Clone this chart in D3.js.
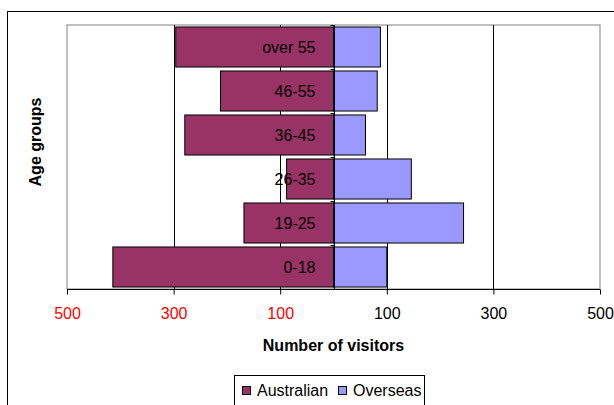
<!DOCTYPE html>
<html>
<head>
<meta charset="utf-8">
<script src="https://cdn.jsdelivr.net/npm/d3@7"></script>
<style>
  body { margin: 0; background: #fff; }
  svg text { font-family: "Liberation Sans", Arial, sans-serif; }
</style>
</head>
<body>
<svg id="chart" width="614" height="405"></svg>
<script>
// age groups, top to bottom
const groups = ['over 55', '46-55', '36-45', '26-35', '19-25', '0-18'];
const australian = [296, 212, 279, 88, 168, 414];
const overseas = [88, 82, 60, 146, 244, 100];
const tickValues = [-500, -300, -100, 100, 300, 500];
const seriesNames = ['Australian', 'Overseas'];
const colors = ['#993366', '#9999ff'];

const svg = d3.select('#chart');
const margin = {top: 25, right: 14, bottom: 116, left: 67};
const width = +svg.attr('width') - margin.left - margin.right;
const height = +svg.attr('height') - margin.top - margin.bottom;

// outer chart border
svg.append('rect')
	.attr('x', 7.5).attr('y', 11.5)
	.attr('width', 640).attr('height', 420)
	.style('fill', '#fff').style('stroke', '#000');

const g = svg.append('g').attr('transform', 'translate(' + margin.left + ',' + margin.top + ')');

const x = d3.scaleLinear().domain([-500, 500]).range([0, width]);
const y = d3.scaleBand().domain(groups).range([0, height]).paddingInner(0.09).paddingOuter(0.045);

// plot border
g.append('rect')
	.attr('x', 0).attr('y', 0).attr('width', width).attr('height', height)
	.style('fill', '#fff').style('stroke', '#808080');

// gridlines
g.append('g').selectAll('line')
	.data(tickValues.slice(1, -1))
	.join('line')
	.attr('x1', d => Math.round(x(d)) + 0.5).attr('x2', d => Math.round(x(d)) + 0.5)
	.attr('y1', 0).attr('y2', height)
	.style('stroke', '#000');

// bars
g.append('g').selectAll('rect')
	.data(groups)
	.join('rect')
	.attr('x', (d, i) => x(-australian[i]))
	.attr('y', d => y(d))
	.attr('width', (d, i) => x(0) - x(-australian[i]))
	.attr('height', y.bandwidth())
	.style('fill', colors[0]).style('stroke', '#000');

g.append('g').selectAll('rect')
	.data(groups)
	.join('rect')
	.attr('x', x(0))
	.attr('y', d => y(d))
	.attr('width', (d, i) => x(overseas[i]) - x(0))
	.attr('height', y.bandwidth())
	.style('fill', colors[1]).style('stroke', '#000');

// category labels
g.append('g').selectAll('text')
	.data(groups)
	.join('text')
	.attr('x', x(0) - 18)
	.attr('y', d => y(d) + y.bandwidth() / 2)
	.attr('dy', '0.35em')
	.style('text-anchor', 'end')
	.style('font-size', '16px')
	.text(d => d);

// vertical axis at zero with ticks between categories
const cx = Math.round(x(0)) + 0.5;
g.append('line')
	.attr('x1', cx).attr('x2', cx).attr('y1', 0).attr('y2', height)
	.style('stroke', '#000');
g.append('g').selectAll('line')
	.data(d3.range(groups.length + 1))
	.join('line')
	.attr('x1', cx - 4).attr('x2', cx)
	.attr('y1', i => Math.round(i * height / groups.length) + 0.5)
	.attr('y2', i => Math.round(i * height / groups.length) + 0.5)
	.style('stroke', '#000');

// bottom axis
const xAxis = g.append('g')
	.attr('transform', 'translate(0,' + (height + 0.5) + ')')
	.call(d3.axisBottom(x).tickValues(tickValues).tickSize(5).tickPadding(13).tickFormat(d => Math.abs(d)));
xAxis.select('.domain').attr('d', 'M0,0H' + width).style('stroke', '#000');
xAxis.selectAll('.tick line').style('stroke', '#000');
xAxis.selectAll('.tick text')
	.style('font-size', '16px')
	.style('font-family', '"Liberation Sans", Arial, sans-serif')
	.style('fill', d => d < 0 ? '#ff0000' : '#000');

// axis titles
svg.append('text')
	.attr('x', margin.left + width / 2)
	.attr('y', 351)
	.style('text-anchor', 'middle')
	.style('font-weight', 'bold')
	.style('font-size', '16px')
	.text('Number of visitors');

svg.append('text')
	.attr('transform', 'translate(41,142) rotate(-90)')
	.style('text-anchor', 'middle')
	.style('font-weight', 'bold')
	.style('font-size', '16px')
	.text('Age groups');

// legend
const legend = svg.append('g');
legend.append('rect')
	.attr('x', 234.5).attr('y', 375.5).attr('width', 190).attr('height', 40)
	.style('fill', '#fff').style('stroke', '#000');
const legendX = [242, 338];
seriesNames.forEach((name, i) => {
	legend.append('rect')
		.attr('x', legendX[i] + 0.5).attr('y', 386.5)
		.attr('width', 8).attr('height', 8)
		.style('fill', colors[i]).style('stroke', '#000');
	legend.append('text')
		.attr('x', legendX[i] + 15)
		.attr('y', 396)
		.style('font-size', '16px')
		.text(name);
});
</script>
</body>
</html>
